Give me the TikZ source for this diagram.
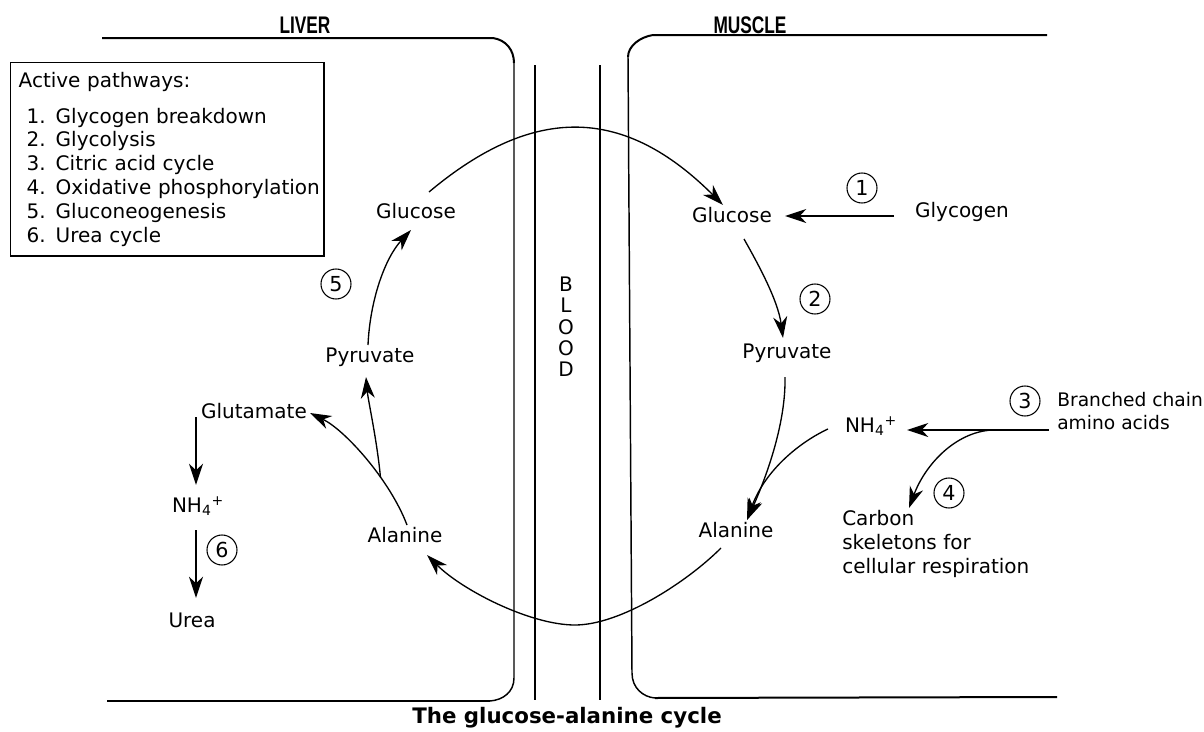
\documentclass[tikz,border=0pt]{standalone}
\usepackage{fontspec}
\setmainfont{DejaVu Sans}
\newfontfamily\labelfont[FakeStretch=0.72]{Liberation Sans}
\usetikzlibrary{arrows.meta}
\tikzstyle{arrow} = [line width=1pt,-{Stealth[length=16pt,width=10.5pt,inset=5pt]}]
\tikzstyle{wall} = [line width=1.5pt]
\tikzstyle{thinwall} = [line width=1.1pt]
\tikzstyle{plain} = [font=\fontsize{15}{18}\selectfont, inner sep=0pt, text height=11pt, text depth=3pt]
\tikzstyle{multi} = [font=\fontsize{15}{18}\selectfont, inner sep=0pt, align=left]
\tikzstyle{stepnum} = [draw, circle, line width=0.8pt, minimum size=22.5pt, inner sep=0pt, font=\fontsize{15.5}{18}\selectfont]
\tikzstyle{celllabel} = [font=\labelfont\bfseries\fontsize{18}{20}\selectfont, inner sep=0pt]

\begin{document}
\begin{tikzpicture}[x=0.75pt,y=-0.75pt]
\useasboundingbox (0,0) rectangle (1204,732);

%Cells
\draw[wall] (102,38) -- (493,38) .. controls (506,40) and (514,50) .. (514,63);
\draw[thinwall] (514,63) -- (514,678) .. controls (514,692) and (503,700) .. (490,701);
\draw[wall] (490,701) -- (107,701);
\draw[wall] (1047,35) -- (653,35) .. controls (640,37) and (628,46) .. (628,57);
\draw[thinwall] (628,57) -- (632,673) .. controls (632,688) and (643,697) .. (655,698);
\draw[wall] (655,698) -- (1057,697);
\draw[thinwall] (535,65) -- (535,700);
\draw[thinwall] (600,65) -- (600,700);

%Nodes
\node[celllabel] (liver) at (305,25) {LIVER};
\node[celllabel] (muscle) at (750,25) {MUSCLE};
\node[draw, line width=1pt, anchor=north west, minimum width=235pt, minimum height=145pt, text width=229pt, inner sep=3pt, align=left, font=\fontsize{15}{17.9}\selectfont] (legend) at (10,62)
  {\hspace*{3pt}Active pathways:\\[9pt]
   \hspace*{9pt}1. Glycogen breakdown\\
   \hspace*{9pt}2. Glycolysis\\
   \hspace*{9pt}3. Citric acid cycle\\
   \hspace*{9pt}4. Oxidative phosphorylation\\
   \hspace*{9pt}5. Gluconeogenesis\\
   \hspace*{9pt}6. Urea cycle};
\node[multi, font=\fontsize{15}{16}\selectfont, align=center] (blood) at (566,327) {B\\L\\O\\O\\D};

\node[plain] (lglc) at (416,213) {Glucose};
\node[plain] (lpyr) at (370,357) {Pyruvate};
\node[plain] (lala) at (405,537) {Alanine};
\node[plain] (glut) at (254,413) {Glutamate};
\node[plain] (lnh) at (198,507) {NH\textsubscript{4}\textsuperscript{+}};
\node[plain] (urea) at (192,622) {Urea};

\node[plain] (mglc) at (732,217) {Glucose};
\node[plain] (glyc) at (962,212) {Glycogen};
\node[plain] (mpyr) at (787,353) {Pyruvate};
\node[plain] (mnh) at (871,427) {NH\textsubscript{4}\textsuperscript{+}};
\node[plain] (mala) at (736,532) {Alanine};
\node[multi, anchor=west, font=\fontsize{14}{17}\selectfont] (bcaa) at (1057,411) {Branched chain\\amino acids};
\node[multi, anchor=west] (carb) at (842,544) {Carbon\\skeletons for\\cellular respiration};

\node[stepnum] (n1) at (862,188) {1};
\node[stepnum] (n2) at (815,299) {2};
\node[stepnum] (n3) at (1025,401) {3};
\node[stepnum] (n4) at (949,493) {4};
\node[stepnum] (n5) at (336,284) {5};
\node[stepnum] (n6) at (222,550) {6};

\node[font=\bfseries\fontsize{16}{18}\selectfont, inner sep=0pt] (title) at (567,718) {The glucose-alanine cycle};

%Lines
\draw[arrow] ([shift={(13,-21)}]lglc.center) .. controls (535,103) and (625,107) .. ([shift={(-9,-12)}]mglc.center);
\draw[arrow] ([shift={(-68,4)}]glyc.center) -- ([shift={(53,-1)}]mglc.center);
\draw[arrow] ([shift={(12,22)}]mglc.center) .. controls (757,262) and (778,300) .. ([shift={(-4,-15)}]mpyr.center);
\draw[arrow] ([shift={(-2,24)}]mpyr.center) .. controls (786,425) and (765,480) .. ([shift={(11,-12)}]mala.center);
\draw[arrow] ([shift={(-43,2)}]mnh.center) .. controls (800,442) and (765,470) .. ([shift={(11,-12)}]mala.center);
\draw[arrow] ([shift={(-8,19)}]bcaa.west) -- coordinate[pos=0.4] (branch) ([shift={(36,3)}]mnh.center);
\draw[arrow] (branch) .. controls (955,432) and (925,465) .. ([shift={(67,-36)}]carb.west);
\draw[arrow] ([shift={(-15,16)}]mala.center) .. controls (686,583) and (620,625) .. (575,625)
  .. controls (530,625) and (462,590) .. ([shift={(22,18)}]lala.center);
\draw[arrow] ([shift={(2,-12)}]lala.center) .. controls (390,480) and (345,430) .. coordinate[pos=0.35] (lbranch) ([shift={(56,0)}]glut.center);
\draw[arrow] (lbranch) .. controls (377,440) and (368,400) .. ([shift={(-4,20)}]lpyr.center);
\draw[arrow] ([shift={(-2,-12)}]lpyr.center) .. controls (370,300) and (385,258) .. ([shift={(-5,17)}]lglc.center);
\draw[arrow] ([shift={(-58,4)}]glut.center) -- ([shift={(-2,-22)}]lnh.center);
\draw[arrow] ([shift={(-2,23)}]lnh.center) -- ([shift={(4,-24)}]urea.center);

\end{tikzpicture}
\end{document}
